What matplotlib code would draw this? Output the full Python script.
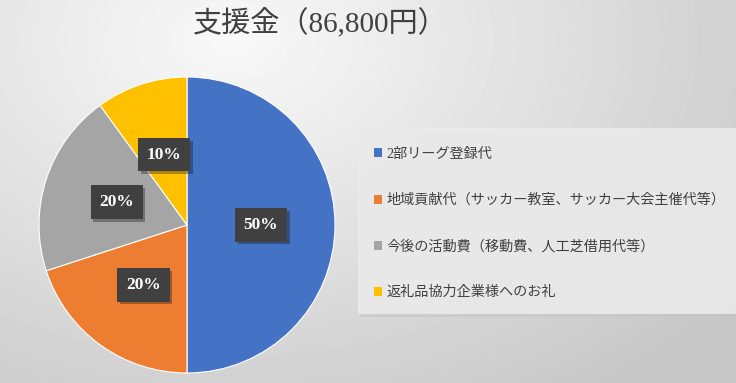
import numpy as np
import matplotlib
matplotlib.use("Agg")
import matplotlib.pyplot as plt
from matplotlib.patches import Rectangle
import matplotlib.patheffects as pe

title = "支援金（86,800円）"
categories = ["2部リーグ登録代",
              "地域貢献代（サッカー教室、サッカー大会主催代等）",
              "今後の活動費（移動費、人工芝借用代等）",
              "返礼品協力企業様へのお礼"]
shares = [50, 20, 20, 10]
colors = ["#4472C4", "#ED7D31", "#A5A5A5", "#FFC000"]

fam = ["Liberation Serif", "Noto Sans CJK JP"]
plt.rcParams["font.family"] = fam

W, H = 736, 383
fig = plt.figure(figsize=(W / 100, H / 100), dpi=100)

# background radial gradient
bg = fig.add_axes([0, 0, 1, 1], zorder=0)
yy, xx = np.mgrid[0:H, 0:W]
d = np.sqrt(((xx - 230) / 620.0) ** 2 + ((yy - 40) / 420.0) ** 2)
val = np.clip(0.975 - 0.19 * d, 0.78, 1.0)
bg.imshow(val, cmap="gray", vmin=0, vmax=1, extent=[0, W, H, 0], aspect="auto")
bg.set_xlim(0, W)
bg.set_ylim(H, 0)
bg.axis("off")

# legend panel
bg.add_patch(Rectangle((360, 131), 380, 186, facecolor="#bdbdbd", alpha=0.35, edgecolor="none"))
bg.add_patch(Rectangle((358, 128), 380, 186, facecolor="#ebebeb", edgecolor="none", alpha=0.9))

# pie
r = 148
cx, cy = 187, 225
ax = fig.add_axes([(cx - r) / W, 1 - (cy + r) / H, 2 * r / W, 2 * r / H], zorder=2)
wedges, texts, autotexts = ax.pie(
    shares, colors=colors, startangle=90, counterclock=False,
    autopct="%d%%", pctdistance=0.5,
    wedgeprops=dict(linewidth=0.8, edgecolor="white"),
    textprops=dict(color="white", fontsize=12.5, fontweight="bold", family=fam),
)
for t in autotexts:
    t.set_bbox(dict(boxstyle="square,pad=0.5", facecolor="#404040", edgecolor="none"))
    t.get_bbox_patch().set_path_effects([pe.SimplePatchShadow(offset=(2, -2), alpha=0.35), pe.Normal()])
ax.set_aspect("equal")
ax.set_xlim(-1, 1)
ax.set_ylim(-1, 1)

fig.text(320 / W, 1 - 24 / H, title, ha="center", va="center", fontsize=21, color="#404040", family=fam)

leg = fig.legend(wedges, categories, loc="upper left", bbox_to_anchor=(364 / W, 1 - 138 / H),
                 frameon=False, fontsize=10.2, labelcolor="#404040", handlelength=0.6,
                 handleheight=0.6, handletextpad=0.3, labelspacing=2.3, borderpad=0.2)
for h in leg.legend_handles:
    h.set_edgecolor("none")

fig.savefig("out.png", dpi=100)
